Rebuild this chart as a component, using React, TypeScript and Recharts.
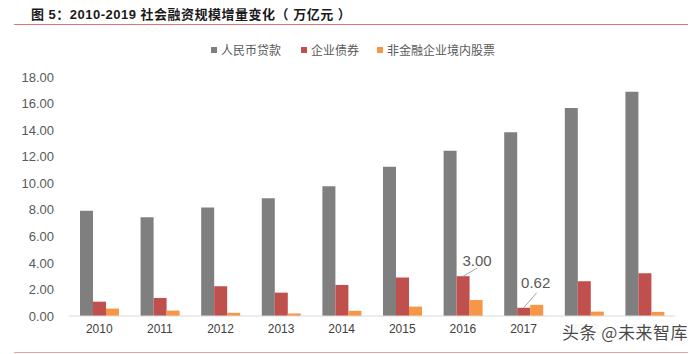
import { BarChart, Bar, XAxis, YAxis, LabelList } from 'recharts';

const years = ['2010', '2011', '2012', '2013', '2014', '2015', '2016', '2017', '2018', '2019'];
const loans = [7.93, 7.43, 8.18, 8.86, 9.77, 11.24, 12.44, 13.84, 15.66, 16.88];
const bonds = [1.08, 1.36, 2.24, 1.76, 2.34, 2.9, 3.0, 0.62, 2.62, 3.22];
const stocks = [0.56, 0.41, 0.24, 0.19, 0.39, 0.71, 1.2, 0.84, 0.33, 0.31];
const yTicks = [0, 2, 4, 6, 8, 10, 12, 14, 16, 18];

const seriesNames = ['人民币贷款', '企业债券', '非金融企业境内股票'];
const colors = ['#7f7f7f', '#c0504d', '#f79646'];

// callouts on the bond series: index -> text/line offsets from the bar top
const callouts: Record<number, { tx: number; ty: number; lx: number; ly: number }> = {
  6: { tx: 14, ty: -16, lx: 14, ly: -8 },
  7: { tx: 12, ty: -25, lx: 13, ly: -15 },
};

const data = years.map((y, i) => ({ year: y, loans: loans[i], bonds: bonds[i], stocks: stocks[i] }));

const CJK = '"Noto Sans CJK SC", "Liberation Sans", sans-serif';
const SANS = 'Liberation Sans, Arial, sans-serif';

function Callout(props: any) {
  const { x, y, width, index, value } = props;
  const c = callouts[index];
  if (!c) return null;
  const cx = x + width / 2;
  return (
    <g>
      <line x1={cx} y1={y} x2={cx + c.lx} y2={y + c.ly} stroke="#a6a6a6" strokeWidth={1} />
      <text
        x={cx + c.tx}
        y={y + c.ty}
        textAnchor="middle"
        dominantBaseline="central"
        fontSize={15}
        fill="#595959"
        fontFamily={SANS}
      >
        {Number(value).toFixed(2)}
      </text>
    </g>
  );
}

export default function App() {
  return (
    <div style={{ position: 'absolute', left: 0, top: 0, width: 700, height: 354, background: '#fff', overflow: 'hidden' }}>
      <div
        style={{
          position: 'absolute',
          left: 31,
          top: 7,
          fontFamily: '"Liberation Sans", ' + CJK,
          fontWeight: 'bold',
          fontSize: 13,
          letterSpacing: 0.5,
          color: '#1a1a1a',
          whiteSpace: 'nowrap',
          lineHeight: '16px',
        }}
      >
        图 5：2010-2019 社会融资规模增量变化（ 万亿元 ）
      </div>
      <div style={{ position: 'absolute', left: 14, top: 24, width: 674, height: 1, background: '#d9777a' }} />
      <div style={{ position: 'absolute', left: 14, top: 352, width: 674, height: 1, background: '#e8a6a8' }} />

      <div
        style={{
          position: 'absolute',
          top: 42,
          left: 211,
          display: 'flex',
          alignItems: 'center',
          fontFamily: CJK,
          fontSize: 12,
          color: '#595959',
          whiteSpace: 'nowrap',
          lineHeight: '16px',
        }}
      >
        {seriesNames.map((n, i) => (
          <span key={n} style={{ display: 'flex', alignItems: 'center', marginRight: i === 0 ? 20 : 18 }}>
            <span style={{ width: 6, height: 6, background: colors[i], marginRight: 4 }} />
            {n}
          </span>
        ))}
      </div>

      <BarChart
        width={700}
        height={354}
        data={data}
        margin={{ top: 77, right: 25, bottom: 8, left: 0 }}
        barGap={0}
        barSize={13}
        style={{ position: 'absolute', left: 0, top: 0 }}
      >
        <XAxis
          dataKey="year"
          height={30}
          tickLine={false}
          axisLine={{ stroke: '#d9d9d9' }}
          tick={{ fill: '#404040', fontSize: 12, fontFamily: SANS }}
          interval={0}
        />
        <YAxis
          width={69}
          domain={[0, 18]}
          ticks={yTicks}
          tickFormatter={(v: number) => v.toFixed(2)}
          axisLine={false}
          tickLine={false}
          tickMargin={9}
          tick={{ fill: '#595959', fontSize: 13, fontFamily: SANS }}
        />
        <Bar dataKey="loans" fill={colors[0]} isAnimationActive={false} />
        <Bar dataKey="bonds" fill={colors[1]} isAnimationActive={false}>
          <LabelList dataKey="bonds" content={Callout} />
        </Bar>
        <Bar dataKey="stocks" fill={colors[2]} isAnimationActive={false} />
      </BarChart>

      {/* watermark: its white patch hides the last two year labels, as in the source image */}
      <div style={{ position: 'absolute', left: 556, top: 319, width: 134, height: 30, background: 'rgba(255,255,255,0.92)' }} />
      <div
        style={{
          position: 'absolute',
          left: 562,
          top: 321,
          fontFamily: CJK,
          fontSize: 17,
          letterSpacing: 0.5,
          color: 'rgba(40,40,40,0.85)',
          whiteSpace: 'nowrap',
          lineHeight: '22px',
        }}
      >
        头条 @未来智库
      </div>
    </div>
  );
}
